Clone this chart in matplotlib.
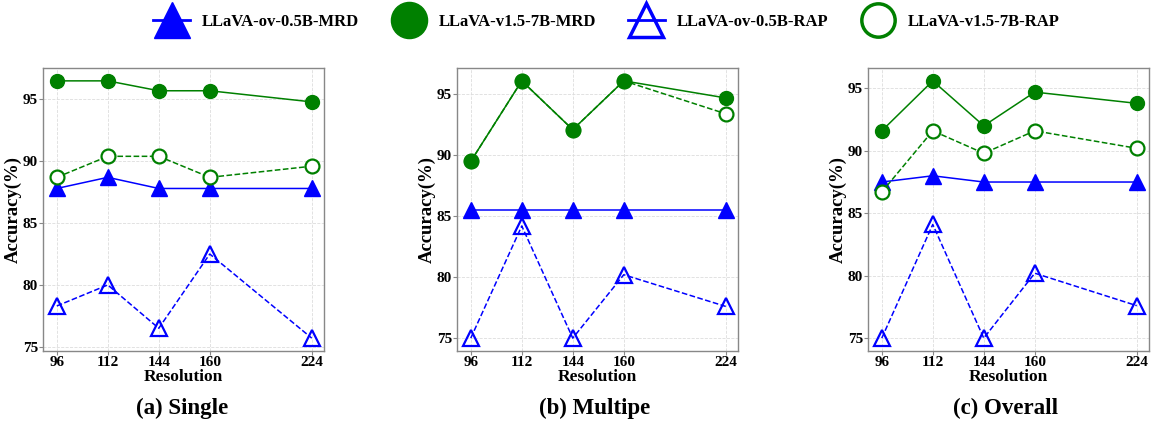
import matplotlib
matplotlib.use('Agg')
import matplotlib.pyplot as plt
from matplotlib.lines import Line2D

plt.rcParams['font.family'] = ['Liberation Serif', 'DejaVu Serif']
plt.rcParams['font.weight'] = 'bold'

resolutions = ['96', '112', '144', '160', '224']
xpos = [0, 1, 2, 3, 5]

# (a) Single
single_ov_mrd = [87.8, 88.7, 87.8, 87.8, 87.8]
single_v15_mrd = [96.5, 96.5, 95.7, 95.7, 94.8]
single_ov_rap = [78.3, 80.0, 76.5, 82.5, 75.7]
single_v15_rap = [88.7, 90.4, 90.4, 88.7, 89.6]

# (b) Multipe
multi_ov_mrd = [85.5, 85.5, 85.5, 85.5, 85.5]
multi_v15_mrd = [89.5, 96.1, 92.1, 96.1, 94.7]
multi_ov_rap = [75.0, 84.2, 75.0, 80.2, 77.6]
multi_v15_rap = [89.5, 96.1, 92.1, 96.1, 93.4]

# (c) Overall
overall_ov_mrd = [87.5, 88.0, 87.5, 87.5, 87.5]
overall_v15_mrd = [91.6, 95.6, 92.0, 94.7, 93.8]
overall_ov_rap = [75.0, 84.1, 75.0, 80.2, 77.6]
overall_v15_rap = [86.7, 91.6, 89.8, 91.6, 90.2]

titles = ['(a) Single', '(b) Multipe', '(c) Overall']
panels = [
    (single_ov_mrd, single_v15_mrd, single_ov_rap, single_v15_rap),
    (multi_ov_mrd, multi_v15_mrd, multi_ov_rap, multi_v15_rap),
    (overall_ov_mrd, overall_v15_mrd, overall_ov_rap, overall_v15_rap),
]
names = ['LLaVA-ov-0.5B-MRD', 'LLaVA-v1.5-7B-MRD', 'LLaVA-ov-0.5B-RAP', 'LLaVA-v1.5-7B-RAP']

fig = plt.figure(figsize=(11.51, 4.23), dpi=100)
W, H = 1151.0, 423.0
lefts = [43, 457, 868]
title_x = [182, 595, 1006]

for i, (ov_mrd, v15_mrd, ov_rap, v15_rap) in enumerate(panels):
    ax = fig.add_axes([lefts[i] / W, 1 - 351 / H, 281 / W, 283 / H])
    ax.plot(xpos, ov_mrd, color='blue', lw=1.1, marker='^', ms=11, zorder=3)
    ax.plot(xpos, ov_rap, color='blue', lw=1.1, ls='--', marker='^', ms=11,
            mfc='none', mew=1.6, zorder=3)
    ax.plot(xpos, v15_rap, color='green', lw=1.1, ls='--', marker='o', ms=10,
            mfc='white', mew=1.6, zorder=3)
    ax.plot(xpos, v15_mrd, color='green', lw=1.1, marker='o', ms=10, zorder=4)
    ax.set_xticks(xpos)
    ax.set_xticklabels(resolutions)
    ax.set_xlim(-0.27, 5.24)
    ax.set_yticks([75, 80, 85, 90, 95])
    ax.grid(True, ls='--', lw=0.6, color='#dddddd')
    ax.set_axisbelow(True)
    for s in ax.spines.values():
        s.set_color('#888888')
        s.set_linewidth(1.0)
    ax.tick_params(length=3, width=0.8, color='#888888', labelsize=11, pad=0.5)
    for lab in ax.get_xticklabels() + ax.get_yticklabels():
        lab.set_fontweight('bold')
    ax.set_xlabel('Resolution', fontsize=12.5, fontweight='bold', labelpad=0)
    ax.set_ylabel('Accuracy(%)', fontsize=13.5, fontweight='bold', labelpad=1)
    fig.text(title_x[i] / W, 1 - 408 / H, titles[i], fontsize=16.5,
             fontweight='bold', ha='center', va='center')

handles = [
    Line2D([], [], color='blue', marker='^', ms=26, lw=2),
    Line2D([], [], color='green', marker='o', ms=26, lw=0),
    Line2D([], [], color='blue', marker='^', ms=24, lw=2, mfc='none', mew=2.5),
    Line2D([], [], color='green', marker='o', ms=24, lw=0, mfc='none', mew=2.5),
]
fig.legend(handles, names, loc='center', bbox_to_anchor=(0.527, 1 - 22 / H), ncol=4,
           frameon=False, handlelength=2.2, columnspacing=1.9,
           handletextpad=0.7, prop={'weight': 'bold', 'size': 12})

fig.savefig('out.png', dpi=100)
